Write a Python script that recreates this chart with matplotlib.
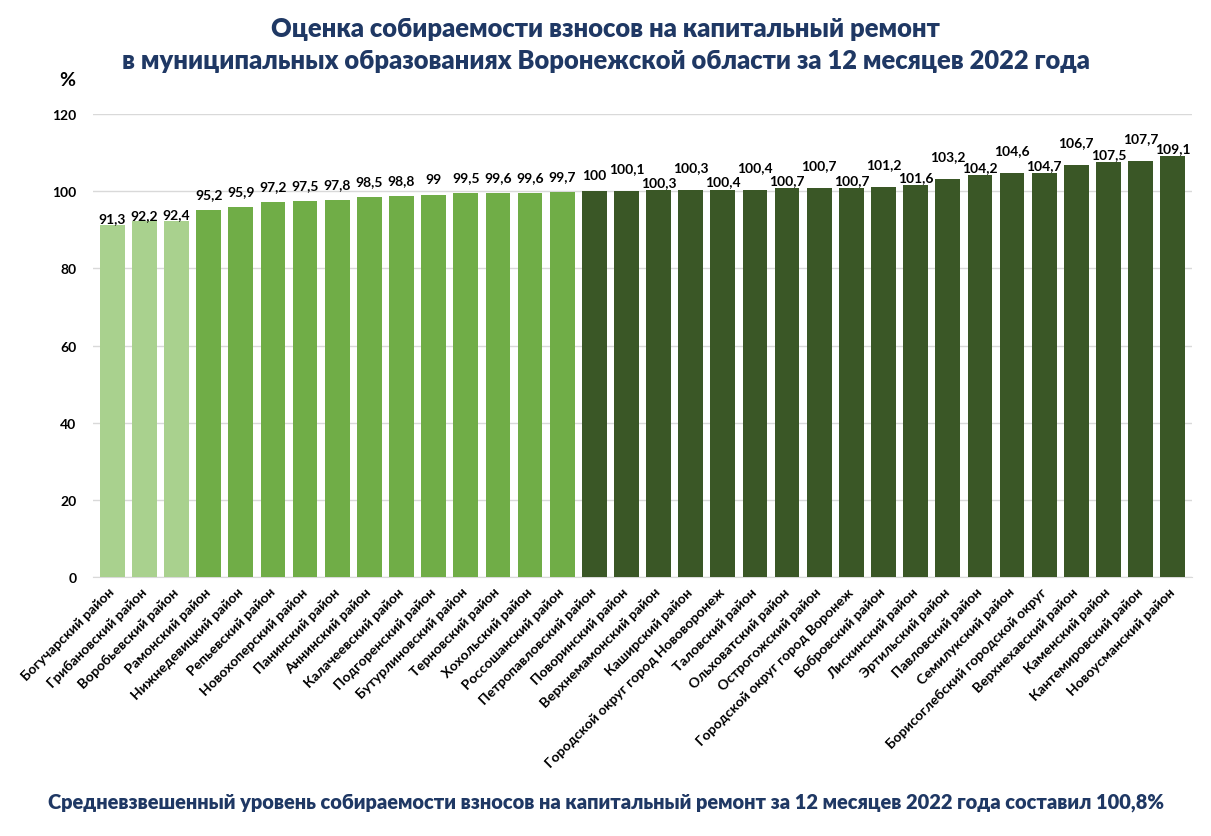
import matplotlib
matplotlib.use("Agg")
import matplotlib.pyplot as plt

categories = [
    "Богучарский район", "Грибановский район", "Воробьевский район", "Рамонский район",
    "Нижнедевицкий район", "Репьевский район", "Новохоперский район", "Панинский район",
    "Аннинский район", "Калачеевский район", "Подгоренский район", "Бутурлиновский район",
    "Терновский район", "Хохольский район", "Россошанский район", "Петропавловский район",
    "Поворинский район", "Верхнемамонский район", "Каширский район",
    "Городской округ город Нововоронеж", "Таловский район", "Ольховатский район",
    "Острогожский район", "Городской округ город Воронеж", "Бобровский район",
    "Лискинский район", "Эртильский район", "Павловский район", "Семилукский район",
    "Борисоглебский городской округ", "Верхнехавский район", "Каменский район",
    "Кантемировский район", "Новоусманский район",
]
values = [91.3, 92.2, 92.4, 95.2, 95.9, 97.2, 97.5, 97.8, 98.5, 98.8, 99, 99.5, 99.6, 99.6,
          99.7, 100, 100.1, 100.3, 100.3, 100.4, 100.4, 100.7, 100.7, 100.7, 101.2, 101.6,
          103.2, 104.2, 104.6, 104.7, 106.7, 107.5, 107.7, 109.1]
y_ticks = [0, 20, 40, 60, 80, 100, 120]

title = ("Оценка собираемости взносов на капитальный ремонт\n"
         "в муниципальных образованиях Воронежской области за 12 месяцев 2022 года")
footer = "Средневзвешенный уровень собираемости взносов на капитальный ремонт за 12 месяцев 2022 года составил 100,8%"

FONT = ["Lato", "DejaVu Sans"]
plt.rcParams["font.family"] = FONT

light, mid, dark = "#A9D18E", "#70AD47", "#3A5726"
navy = "#1F3864"

def bar_color(v):
    if v < 95:
        return light
    if v < 100:
        return mid
    return dark

fig = plt.figure(figsize=(12.11, 8.37), dpi=100)
ax = fig.add_axes([0.0768, 0.3094, 0.9075, 0.5532])

x = list(range(len(values)))
ax.bar(x, values, width=0.77, color=[bar_color(v) for v in values], zorder=3)

ax.set_xlim(-0.6, len(values) - 0.4)
ax.set_ylim(0, 120)
ax.set_yticks(y_ticks)
ax.set_yticklabels([str(t) for t in y_ticks], fontsize=10, fontweight="bold")
ax.yaxis.grid(True, color="#D9D9D9", linewidth=1, zorder=0)
ax.tick_params(axis="y", length=0, pad=12)
ax.tick_params(axis="x", length=0, pad=9)
for s in ["top", "right", "left"]:
    ax.spines[s].set_visible(False)
ax.spines["bottom"].set_color("#D9D9D9")

ax.set_xticks(x)
ax.set_xticklabels(categories, rotation=45, ha="right", va="center", rotation_mode="anchor",
                   fontsize=10, fontweight="bold")

for i, v in enumerate(values):
    if i < 3:
        off = 4.5
    elif i < 16:
        off = 11.5
    else:
        off = 16.5 if i % 2 == 0 else 5.8
    ax.annotate(str(v).replace(".", ","), (i, v), xytext=(0, off), textcoords="offset points",
                ha="center", va="center", fontsize=10, fontweight="bold", color="black")

fig.text(0.5, 0.9462, title, ha="center", va="center", fontsize=18.4, fontweight="heavy",
         color=navy, linespacing=1.38)
fig.text(67 / 1211, 1 - 81 / 837, "%", ha="center", va="center", fontsize=14,
         fontweight="bold", color="black")
fig.text(0.5, 1 - 803 / 837, footer, ha="center", va="center", fontsize=14.4,
         fontweight="heavy", color=navy)

fig.savefig("out.png", dpi=100)
